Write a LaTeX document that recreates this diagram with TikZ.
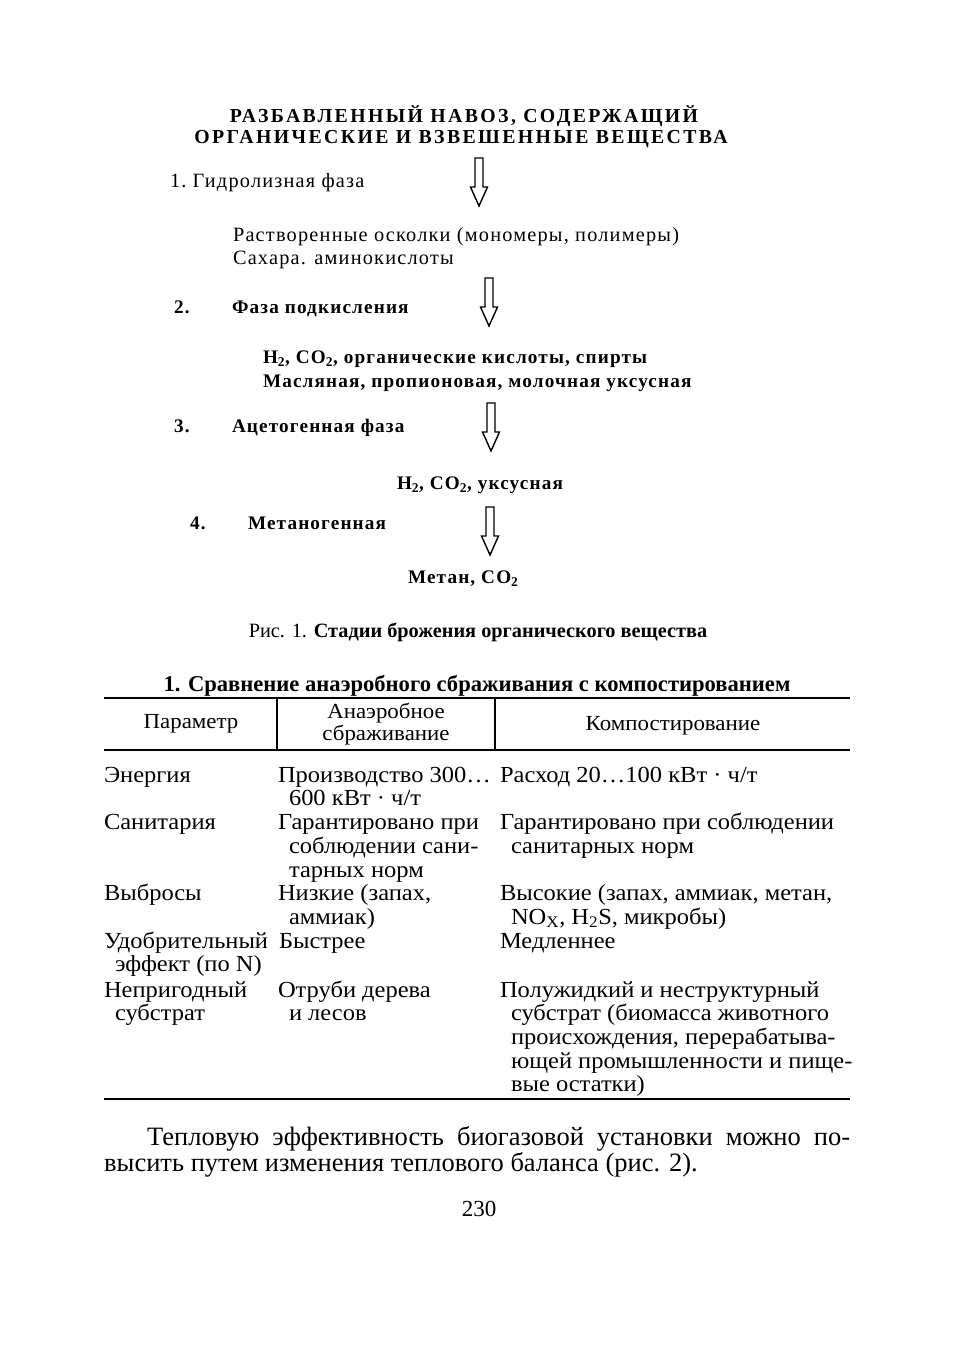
\documentclass[tikz,border=0pt]{standalone}
\usepackage{fontspec}
\setmainfont{Liberation Serif}
\newfontfamily\flowfont[LetterSpace=6]{Liberation Serif}
\newfontfamily\titlefont[LetterSpace=12]{Liberation Serif}
\newfontfamily\tabfont[FakeStretch=1.065]{Liberation Serif}
\newcommand{\flowsize}{\fontsize{20.3}{22}\selectfont}
\newcommand{\flowbsize}{\fontsize{19.2}{21}\selectfont}
\newcommand{\tabsize}{\fontsize{23}{24}\selectfont}
\begin{document}
\begin{tikzpicture}[x=1pt,y=-1pt,
  fl/.style={anchor=base west,inner sep=0pt,outer sep=0pt,font=\flowfont\flowsize},
  flb/.style={fl,font=\flowfont\flowbsize\bfseries},
  tb/.style={anchor=base west,inner sep=0pt,outer sep=0pt,font=\tabfont\tabsize,text height=15pt,text depth=4pt},
  th/.style={anchor=center,inner sep=0pt,outer sep=0pt,font=\tabfont\fontsize{21.5}{23}\selectfont,text height=14pt,text depth=4pt},
  rule/.style={line width=1.8pt},
  thinrule/.style={line width=1.1pt},
  hollowarrow/.pic={\draw[line width=1.4pt,line join=miter]
     (-4,0) -- (4,0) -- (4,29) -- (8.5,29) -- (0,48) -- (-8.5,29) -- (-4,29) -- cycle;}]
\useasboundingbox (0,0) rectangle (959,1348);

% ---------- flow scheme ----------
\node[anchor=base,inner sep=0pt,font=\titlefont\fontsize{19.8}{22}\selectfont\bfseries] (t1) at (464,123) {РАЗБАВЛЕННЫЙ НАВОЗ, СОДЕРЖАЩИЙ};
\node[anchor=base,inner sep=0pt,font=\titlefont\fontsize{19.8}{22}\selectfont\bfseries] (t2) at (461,144) {ОРГАНИЧЕСКИЕ И ВЗВЕШЕННЫЕ ВЕЩЕСТВА};

\node[fl] (s1) at (170,188) {1.\ Гидролизная фаза};
\coordinate (a1) at (479,158);
\pic at (a1) {hollowarrow};

\node[fl] (p1a) at (233,242) {Растворенные осколки (мономеры, полимеры)};
\node[fl] (p1b) at (233,264) {Сахара. аминокислоты};

\node[flb] (n2) at (174,313) {2.};
\node[flb] (s2) at (232,313) {Фаза подкисления};
\coordinate (a2) at (489,278);
\pic at (a2) {hollowarrow};

\node[flb] (p2a) at (263,363) {H\textsubscript{2}, CO\textsubscript{2}, органические кислоты, спирты};
\node[flb] (p2b) at (263,387) {Масляная, пропионовая, молочная уксусная};

\node[flb] (n3) at (174,432) {3.};
\node[flb] (s3) at (232,432) {Ацетогенная фаза};
\coordinate (a3) at (491,403);
\pic at (a3) {hollowarrow};

\node[flb] (p3) at (397,489) {H\textsubscript{2}, CO\textsubscript{2}, уксусная};

\node[flb] (n4) at (190,529) {4.};
\node[flb] (s4) at (248,529) {Метаногенная};
\coordinate (a4) at (490,507);
\pic at (a4) {hollowarrow};

\node[flb] (p4) at (408,583) {Метан, CO\textsubscript{2}};

\node[anchor=base,inner sep=0pt,font=\fontsize{20.3}{22}\selectfont] (cap) at (478,637) {Рис. 1. \textbf{Стадии брожения органического вещества}};

% ---------- table ----------
\node[anchor=base,inner sep=0pt,font=\fontsize{22.6}{24}\selectfont\bfseries] (tt) at (477,691) {1. Сравнение анаэробного сбраживания с компостированием};

\coordinate (rtl) at (104,698); \coordinate (rtr) at (850,698);
\coordinate (rhl) at (104,750); \coordinate (rhr) at (850,750);
\coordinate (rbl) at (104,1099); \coordinate (rbr) at (850,1099);
\coordinate (v1t) at (277,698); \coordinate (v1b) at (277,750);
\coordinate (v2t) at (495,698); \coordinate (v2b) at (495,750);
\draw[rule] (rtl) -- (rtr);
\draw[thinrule] (rhl) -- (rhr);
\draw[rule] (rbl) -- (rbr);
\draw[thinrule] (v1t) -- (v1b);
\draw[thinrule] (v2t) -- (v2b);

\node[th] (h1) at (191,723) {Параметр};
\node[th] (h2a) at (386,713) {Анаэробное};
\node[th] (h2b) at (386,735) {сбраживание};
\node[th] (h3) at (673,725) {Компостирование};

% row 1
\node[tb] (r1a) at (104,782) {Энергия};
\node[tb] (r1b) at (278,782) {Производство 300…};
\node[tb] (r1b2) at (289,805) {600 кВт · ч/т};
\node[tb] (r1c) at (500,782) {Расход 20…100 кВт · ч/т};
% row 2
\node[tb] (r2a) at (104,829) {Санитария};
\node[tb] (r2b) at (278,829) {Гарантировано при};
\node[tb] (r2b2) at (289,853) {соблюдении сани-};
\node[tb] (r2b3) at (289,877) {тарных норм};
\node[tb] (r2c) at (500,829) {Гарантировано при соблюдении};
\node[tb] (r2c2) at (511,853) {санитарных норм};
% row 3
\node[tb] (r3a) at (104,900) {Выбросы};
\node[tb] (r3b) at (278,900) {Низкие (запах,};
\node[tb] (r3b2) at (289,924) {аммиак)};
\node[tb] (r3c) at (500,900) {Высокие (запах, аммиак, метан,};
\node[tb] (r3c2) at (511,924) {NO\textsubscript{X}, H\textsubscript{2}S, микробы)};
% row 4
\node[tb] (r4a) at (104,948) {Удобрительный};
\node[tb] (r4a2) at (115,971) {эффект (по N)};
\node[tb] (r4b) at (279,948) {Быстрее};
\node[tb] (r4c) at (500,948) {Медленнее};
% row 5
\node[tb] (r5a) at (104,997) {Непригодный};
\node[tb] (r5a2) at (115,1020) {субстрат};
\node[tb] (r5b) at (278,997) {Отруби дерева};
\node[tb] (r5b2) at (289,1020) {и лесов};
\node[tb] (r5c) at (500,997) {Полужидкий и неструктурный};
\node[tb] (r5c2) at (511,1020) {субстрат (биомасса животного};
\node[tb] (r5c3) at (511,1044) {происхождения, перерабатыва-};
\node[tb] (r5c4) at (511,1068) {ющей промышленности и пище-};
\node[tb] (r5c5) at (511,1091) {вые остатки)};

% ---------- paragraph ----------
\node[anchor=base west,inner sep=0pt,font=\fontsize{26.5}{28}\selectfont] (par1) at (147,1145) {\makebox[703pt][s]{Тепловую эффективность биогазовой установки можно по-}};
\node[anchor=base west,inner sep=0pt,font=\fontsize{26.5}{28}\selectfont] (par2) at (104,1171) {высить путем изменения теплового баланса (рис. 2).};
\node[anchor=base,inner sep=0pt,font=\fontsize{23}{25}\selectfont] (pg) at (479,1216) {230};
\end{tikzpicture}
\end{document}
